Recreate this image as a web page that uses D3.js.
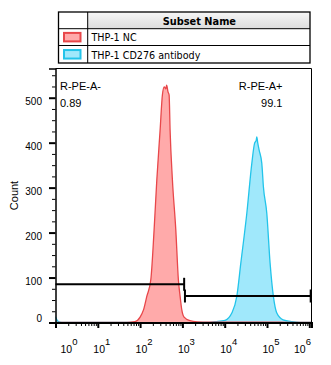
<!DOCTYPE html>
<html><head><meta charset="utf-8">
<script src="https://cdn.jsdelivr.net/npm/d3@7"></script>
<style>html,body{margin:0;padding:0;background:#fff;}svg{display:block;}</style>
</head><body>
<script>
// ---- data ----
const seriesNames = ["THP-1 NC", "THP-1 CD276 antibody"];
const seriesFill = ["#ffaaaa", "#a0e8fb"];
const seriesStroke = ["#e8474a", "#22c4ea"];
// log10 intensity and count for THP-1 NC
const ncLog   = [0, 1.0, 1.69, 1.88, 2.0, 2.08, 2.158, 2.253, 2.331, 2.395, 2.473, 2.527, 2.57, 2.61, 2.627, 2.66, 2.686, 2.709, 2.764, 2.844, 2.905, 2.946, 2.986, 3.04, 3.18, 3.35, 3.6, 4.5, 5.5, 6.05];
const ncCount = [0.5, 0.5, 0.5, 2, 12, 28, 58, 95, 206, 317, 428, 506, 524, 520, 528, 513, 506, 428, 317, 206, 95, 58, 28, 12, 4, 1.5, 0.8, 0.6, 0.5, 0.5];
// log10 intensity and count for THP-1 CD276 antibody
const cdLog   = [0, 0.04, 0.1, 0.2, 2.0, 3.58, 3.78, 4.01, 4.168, 4.286, 4.381, 4.523, 4.641, 4.707, 4.745, 4.759, 4.78, 4.813, 4.877, 4.915, 4.995, 5.073, 5.151, 5.232, 5.38, 5.59, 5.78, 6.05];
const cdCount = [13, 5, 1, 0.3, 0.3, 0.3, 2, 5, 21, 58, 132, 243, 354, 399, 405, 413, 400, 384, 354, 302, 243, 132, 58, 21, 6, 2, 0.5, 0.5];
const yTicks = [0, 100, 200, 300, 400, 500];
const xDecades = [0, 1, 2, 3, 4, 5, 6];
const gateNeg = {name: "R-PE-A-", pct: "0.89", from: 1, to: 1100};
const gatePos = {name: "R-PE-A+", pct: "99.1", from: 1100, to: 1.1e6};

// ---- layout ----
const W = 331, H = 365;
const L = 55.5, R = 311.5, T = 68.5, B = 322.5;
const svg = d3.select("body").append("svg").attr("width", W).attr("height", H);

const x = d3.scaleLog().domain([1, Math.pow(10, 6.052)]).range([L, R]);
const y = d3.scaleLinear().domain([0, 565]).range([B, T]);

// ---- legend table ----
const tL = 58.5, tR = 310, tRow = [12, 28.7, 45.5, 63], tCol = 87.7;
const defs = svg.append("defs");
const grad = defs.append("linearGradient").attr("id", "hdr").attr("x1", 0).attr("y1", 0).attr("x2", 0).attr("y2", 1);
grad.append("stop").attr("offset", "0%").attr("stop-color", "#f6f6f6");
grad.append("stop").attr("offset", "100%").attr("stop-color", "#dcdcdc");
const leg = svg.append("g");
leg.append("rect").attr("x", tCol).attr("y", tRow[0]).attr("width", tR - tCol).attr("height", tRow[1] - tRow[0]).attr("fill", "url(#hdr)");
leg.append("rect").attr("x", tL).attr("y", tRow[0]).attr("width", tR - tL).attr("height", tRow[3] - tRow[0])
  .attr("fill", "none").attr("stroke", "#000").attr("stroke-width", 1.3);
[tRow[1], tRow[2]].forEach(v => leg.append("line").attr("x1", tL).attr("x2", tR).attr("y1", v).attr("y2", v).attr("stroke", "#000").attr("stroke-width", 1));
leg.append("line").attr("x1", tCol).attr("x2", tCol).attr("y1", tRow[0]).attr("y2", tRow[3]).attr("stroke", "#000").attr("stroke-width", 1);
leg.append("text").attr("x", (tCol + tR) / 2 + 0.5).attr("y", 24.5).attr("text-anchor", "middle")
  .attr("font-family", "DejaVu Sans").attr("font-weight", "bold").attr("font-size", 9.8).attr("fill", "#000").text("Subset Name");
seriesNames.forEach((n, i) => {
  const r0 = tRow[i + 1], r1 = tRow[i + 2];
  const mid = (r0 + r1) / 2;
  leg.append("rect").attr("x", 64).attr("y", mid - 4.2).attr("width", 16.5).attr("height", 8.5)
    .attr("fill", seriesFill[i]).attr("stroke", seriesStroke[i]).attr("stroke-width", 2);
  leg.append("text").attr("x", 91.5).attr("y", mid + 4.3).attr("font-family", "DejaVu Sans").attr("font-size", 9.6)
    .attr("fill", "#000").text(n);
});

// ---- histograms ----
const area = d3.area().x(d => x(Math.pow(10, d[0]))).y0(B).y1(d => y(d[1])).curve(d3.curveMonotoneX);
const line = d3.line().x(d => x(Math.pow(10, d[0]))).y(d => y(d[1])).curve(d3.curveMonotoneX);
const series = [d3.zip(cdLog, cdCount), d3.zip(ncLog, ncCount)];
const order = [1, 0];
const clip = defs.append("clipPath").attr("id", "plotclip");
clip.append("rect").attr("x", L).attr("y", T).attr("width", R - L).attr("height", B - T);
const hg = svg.append("g").attr("clip-path", "url(#plotclip)");
series.forEach((s, k) => {
  const i = order[k];
  hg.append("path").datum(s).attr("d", area).attr("fill", seriesFill[i]);
  hg.append("path").datum(s).attr("d", line).attr("fill", "none").attr("stroke", seriesStroke[i]).attr("stroke-width", 1.3);
});

// ---- frame ----
svg.append("line").attr("x1", L).attr("x2", R).attr("y1", T).attr("y2", T).attr("stroke", "#000").attr("stroke-width", 1);
svg.append("line").attr("x1", R).attr("x2", R).attr("y1", T).attr("y2", B).attr("stroke", "#000").attr("stroke-width", 1);

// ---- y axis ----
const yMinor = d3.range(0, 566, 25).filter(v => v % 100 !== 0);
const ya = svg.append("g").attr("transform", `translate(${L},0)`);
ya.call(d3.axisLeft(y).tickValues(yMinor).tickSize(3.5).tickFormat(""));
ya.call(g => g.select(".domain").remove());
const yb = svg.append("g").attr("transform", `translate(${L},0)`);
yb.call(d3.axisLeft(y).tickValues(yTicks).tickSize(6.5).tickFormat(""));
yb.select(".domain").attr("stroke-width", 1.5);
yb.selectAll(".tick line").attr("stroke-width", 2);
yTicks.forEach(v => {
  svg.append("text").attr("x", 42).attr("y", Math.min(y(v) + 7.5, B - 1)).attr("text-anchor", "end")
    .attr("font-family", "Liberation Sans").attr("font-size", 10).attr("fill", "#000").text(v);
});
svg.append("text").attr("transform", `translate(18,${(T + B) / 2}) rotate(-90)`).attr("text-anchor", "middle")
  .attr("font-family", "Liberation Sans").attr("font-size", 11).attr("fill", "#000").text("Count");

// ---- x axis ----
const xMinor = [];
xDecades.forEach(d => { for (let m = 2; m <= 9; m++) { const v = m * Math.pow(10, d); if (v <= x.domain()[1]) xMinor.push(v); } });
const xa = svg.append("g").attr("transform", `translate(0,${B})`);
xa.call(d3.axisBottom(x).tickValues(xMinor).tickSize(3.5).tickFormat(""));
xa.call(g => g.select(".domain").remove());
const xb = svg.append("g").attr("transform", `translate(0,${B})`);
xb.call(d3.axisBottom(x).tickValues(xDecades.map(d => Math.pow(10, d))).tickSize(5.5).tickFormat(""));
xb.select(".domain").attr("stroke-width", 2);
xb.selectAll(".tick line").attr("stroke-width", 2);
const labW = 16;
xDecades.forEach(d => {
  const px = x(Math.pow(10, d));
  const start = Math.max(L + 5, Math.min(px + 1 - 5.5, R - 1.5 - labW));
  const t = svg.append("text").attr("x", start).attr("y", 352.5).attr("font-family", "Liberation Sans").attr("font-size", 10.5).attr("fill", "#000");
  t.append("tspan").text("10");
  t.append("tspan").attr("dy", -7.5).attr("font-size", 9.5).text(d);
});

// ---- gates ----
const gates = [gateNeg, gatePos];
const gy = [284.3, 296];
gates.forEach((g, i) => {
  const x1 = Math.max(x(g.from), L), x2 = Math.min(x(g.to), R - 0.8);
  const gg = svg.append("g").attr("stroke", "#000").attr("stroke-width", 2);
  gg.append("line").attr("x1", x1).attr("x2", x2).attr("y1", gy[i]).attr("y2", gy[i]);
  if (i === 0) {
    gg.append("line").attr("x1", x2).attr("x2", x2).attr("y1", gy[i] - 6.5).attr("y2", gy[i] + 6.5);
  } else {
    gg.append("line").attr("x1", x1 + 0.8).attr("x2", x1 + 0.8).attr("y1", gy[i] - 6.5).attr("y2", gy[i] + 6.5);
    gg.append("line").attr("x1", x2).attr("x2", x2).attr("y1", gy[i] - 6.5).attr("y2", gy[i] + 6.5);
  }
});
svg.append("text").attr("x", 60).attr("y", 90).attr("font-family", "Liberation Sans").attr("font-size", 11).text(gateNeg.name);
svg.append("text").attr("x", 60).attr("y", 107).attr("font-family", "Liberation Sans").attr("font-size", 11).text(gateNeg.pct);
svg.append("text").attr("x", 282.5).attr("y", 90).attr("text-anchor", "end").attr("font-family", "Liberation Sans").attr("font-size", 11).text(gatePos.name);
svg.append("text").attr("x", 282.5).attr("y", 107).attr("text-anchor", "end").attr("font-family", "Liberation Sans").attr("font-size", 11).text(gatePos.pct);
</script>
</body></html>
